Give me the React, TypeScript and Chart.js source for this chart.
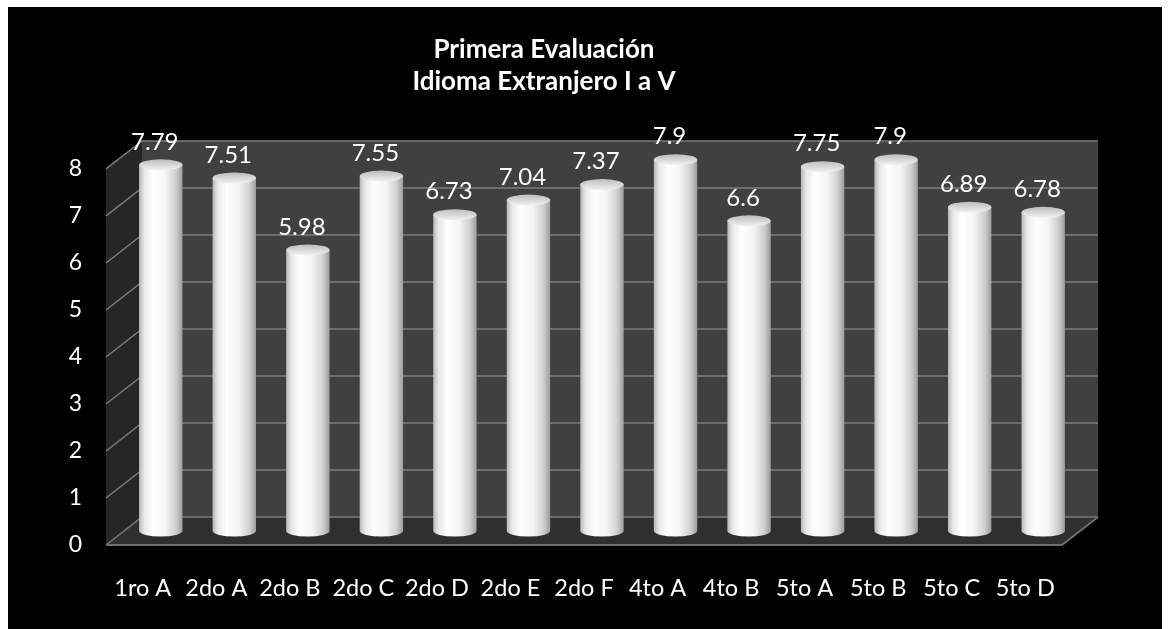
import React, { useEffect, useRef } from "react";
import { Chart, registerables } from "chart.js";

Chart.register(...registerables);

const categories = ["1ro A", "2do A", "2do B", "2do C", "2do D", "2do E", "2do F", "4to A", "4to B", "5to A", "5to B", "5to C", "5to D"];
const values = [7.79, 7.51, 5.98, 7.55, 6.73, 7.04, 7.37, 7.9, 6.6, 7.75, 7.9, 6.89, 6.78];
const yTicks = [0, 1, 2, 3, 4, 5, 6, 7, 8];
const titleLines = ["Primera Evaluación", "Idioma Extranjero I a V"];

const DX = 18;
const DY = 14;
const FONT = "Lato, 'Open Sans', sans-serif";

const scenePlugin = {
  id: "scene3d",
  beforeDatasetsDraw(chart: any) {
    const { ctx, chartArea, scales } = chart;
    const y = scales.y;
    const L = chartArea.left, R = chartArea.right;
    const y0 = y.getPixelForValue(0);
    const yTop = y.getPixelForValue(yTicks[yTicks.length - 1]);
    ctx.save();
    ctx.fillStyle = "#404040";
    ctx.fillRect(L + DX, yTop - DY, R - L, y0 - yTop);
    ctx.fillStyle = "#262626";
    ctx.beginPath();
    ctx.moveTo(L - DX, yTop + DY);
    ctx.lineTo(L + DX, yTop - DY);
    ctx.lineTo(L + DX, y0 - DY);
    ctx.lineTo(L - DX, y0 + DY);
    ctx.closePath();
    ctx.fill();
    ctx.fillStyle = "#2f2f2f";
    ctx.beginPath();
    ctx.moveTo(L - DX, y0 + DY);
    ctx.lineTo(L + DX, y0 - DY);
    ctx.lineTo(R + DX, y0 - DY);
    ctx.lineTo(R - DX, y0 + DY);
    ctx.closePath();
    ctx.fill();
    ctx.strokeStyle = "#7c7c7c";
    ctx.lineWidth = 1.5;
    for (const v of yTicks) {
      const p = y.getPixelForValue(v);
      ctx.beginPath();
      ctx.moveTo(L - DX, p + DY);
      ctx.lineTo(L + DX, p - DY);
      ctx.lineTo(R + DX, p - DY);
      ctx.stroke();
    }
    ctx.strokeStyle = "#6e6e6e";
    ctx.lineWidth = 2;
    ctx.beginPath();
    ctx.moveTo(L - DX, y0 + DY);
    ctx.lineTo(R - DX, y0 + DY);
    ctx.lineTo(R + DX, y0 - DY);
    ctx.stroke();
    ctx.restore();
  },
  afterDatasetsDraw(chart: any) {
    const { ctx } = chart;
    const meta = chart.getDatasetMeta(0);
    ctx.save();
    meta.data.forEach((bar: any, i: number) => {
      const cx = bar.x;
      const w = bar.width;
      const top = bar.y;
      const base = bar.base;
      const rx = w / 2;
      const ry = 5.5;
      const g = ctx.createLinearGradient(cx - rx, 0, cx + rx, 0);
      g.addColorStop(0, "#b8b8b8");
      g.addColorStop(0.12, "#e8e8e8");
      g.addColorStop(0.32, "#ffffff");
      g.addColorStop(0.6, "#f5f5f5");
      g.addColorStop(0.85, "#cfcfcf");
      g.addColorStop(1, "#9c9c9c");
      ctx.fillStyle = g;
      ctx.beginPath();
      ctx.moveTo(cx - rx, top);
      ctx.lineTo(cx - rx, base);
      ctx.ellipse(cx, base, rx, ry, 0, Math.PI, 0, true);
      ctx.lineTo(cx + rx, top);
      ctx.closePath();
      ctx.fill();
      const gt = ctx.createLinearGradient(0, top - ry, 0, top + ry);
      gt.addColorStop(0, "#bcbcbc");
      gt.addColorStop(1, "#f2f2f2");
      ctx.fillStyle = gt;
      ctx.beginPath();
      ctx.ellipse(cx, top, rx, ry, 0, 0, Math.PI * 2);
      ctx.fill();
      ctx.fillStyle = "#ffffff";
      ctx.font = `24px ${FONT}`;
      ctx.textAlign = "center";
      ctx.textBaseline = "middle";
      ctx.fillText(String(values[i]), cx - 6, top - 23);
    });
    ctx.restore();
  },
};

export default function App() {
  const ref = useRef<HTMLCanvasElement>(null);
  useEffect(() => {
    if (!ref.current) return;
    const chart = new Chart(ref.current, {
      type: "bar",
      data: {
        labels: categories,
        datasets: [
          {
            data: values,
            backgroundColor: "rgba(0,0,0,0)",
            borderWidth: 0,
            barPercentage: 0.59,
            categoryPercentage: 1,
          },
        ],
      },
      options: {
        animation: false,
        responsive: false,
        maintainAspectRatio: false,
        layout: { padding: { left: 0, right: 82, top: 0, bottom: 0 } },
        plugins: {
          legend: { display: false },
          tooltip: { enabled: false },
          title: {
            display: true,
            text: titleLines,
            color: "#ffffff",
            font: { family: FONT, size: 26, weight: "bold", lineHeight: 1.23 },
            padding: { top: 27, bottom: 57 },
          },
        },
        scales: {
          y: {
            min: 0,
            max: 8,
            grid: { display: false, drawTicks: false },
            border: { display: false },
            afterFit: (s: any) => {
              s.width = 116;
            },
            ticks: {
              stepSize: 1,
              color: "#ffffff",
              font: { family: FONT, size: 23 },
              padding: 42,
              labelOffset: 14,
            },
          },
          x: {
            grid: { display: false, drawTicks: false },
            border: { display: false },
            afterFit: (s: any) => {
              s.height = 98;
            },
            ticks: {
              color: "#ffffff",
              font: { family: FONT, size: 23.5 },
              padding: 43,
              labelOffset: -18,
              maxRotation: 0,
              autoSkip: false,
            },
          },
        },
      },
      plugins: [scenePlugin],
    });
    return () => chart.destroy();
  }, []);
  return (
    <div style={{ position: "absolute", left: 8, top: 7, width: 1154, height: 622, background: "#000" }}>
      <canvas ref={ref} width={1154} height={622} style={{ display: "block" }} />
    </div>
  );
}
